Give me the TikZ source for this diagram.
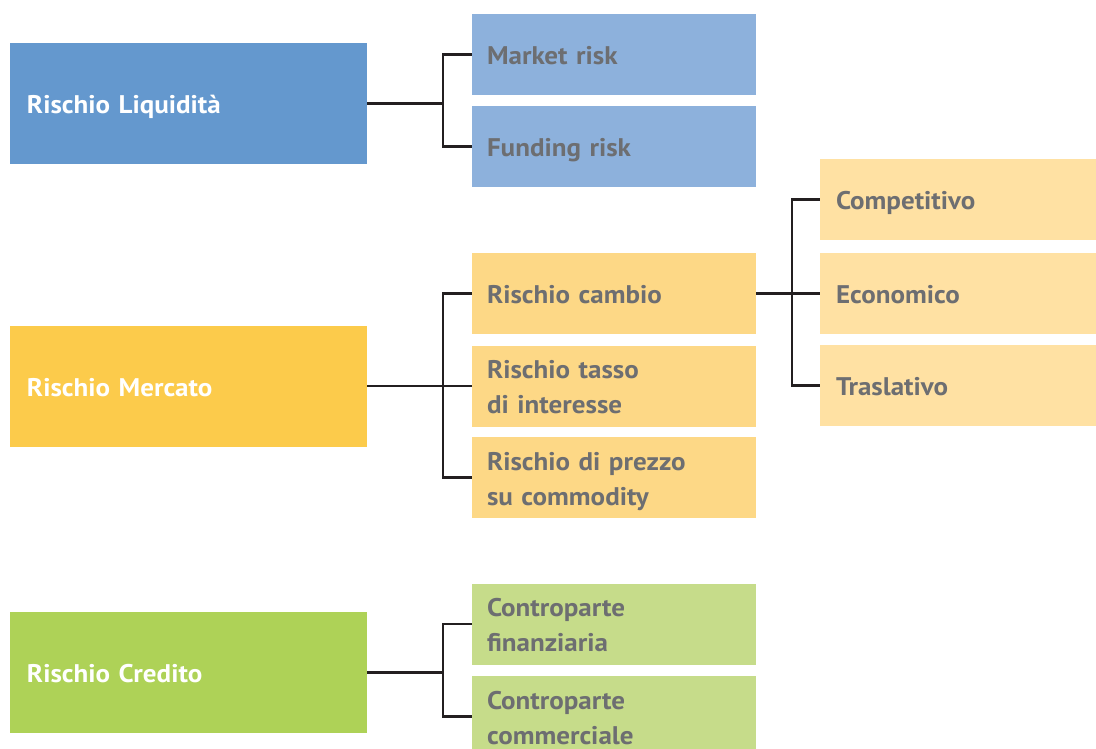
\documentclass[tikz,border=0pt]{standalone}
\usepackage{fontspec}
\setmainfont{PT Sans}[FakeStretch=1.06]

\definecolor{liqmain}{HTML}{6498CE}
\definecolor{liqsub}{HTML}{8DB1DC}
\definecolor{mermain}{HTML}{FCCB4B}
\definecolor{mersub}{HTML}{FDD886}
\definecolor{merleaf}{HTML}{FFE1A3}
\definecolor{cremain}{HTML}{AED257}
\definecolor{cresub}{HTML}{C6DC8A}
\definecolor{labelgray}{HTML}{6D6E71}
\definecolor{linkcolor}{HTML}{231F20}

\tikzset{
  mainbox/.style={rectangle, inner ysep=0pt, inner xsep=17pt, text width=323pt,
    minimum height=121pt, align=left, text=white, text height=20pt, text depth=0pt,
    font=\fontsize{25.5}{35}\selectfont\bfseries},
  subbox/.style={rectangle, inner ysep=0pt, inner xsep=15pt, text width=254pt,
    minimum height=81pt, align=left, text=labelgray, text height=20pt, text depth=0pt,
    font=\fontsize{25.5}{35}\selectfont\bfseries},
  leafbox/.style={subbox, inner xsep=16pt, text width=244pt},
  twolines/.style={text depth=35pt},
  link/.style={draw=linkcolor, line width=2.4pt}
}

\begin{document}
\begin{tikzpicture}[x=1pt,y=-1pt]
\clip (0,0) rectangle (1096,749);

% liquidita
\node[mainbox, fill=liqmain] (liq) at (188.5,103.5) {Rischio Liquidità};
\node[subbox, fill=liqsub] (market) at (614,54.5) {Market risk};
\node[subbox, fill=liqsub] (funding) at (614,146.5) {Funding risk};

% mercato
\node[mainbox, fill=mermain] (merc) at (188.5,386) {Rischio Mercato};
\node[subbox, fill=mersub] (cambio) at (614,293.5) {Rischio cambio};
\node[subbox, fill=mersub, twolines] (tasso) at (614,386) {Rischio tasso\\di interesse};
\node[subbox, fill=mersub, twolines] (prezzo) at (614,477.5) {Rischio di prezzo\\su commodity};
\node[leafbox, fill=merleaf] (compet) at (958,199.5) {Competitivo};
\node[leafbox, fill=merleaf] (econ) at (958,293.5) {Economico};
\node[leafbox, fill=merleaf] (trasl) at (958,385.5) {Traslativo};

% credito
\node[mainbox, fill=cremain] (cred) at (188.5,672.5) {Rischio Credito};
\node[subbox, fill=cresub, twolines] (cfin) at (614,624) {Controparte\\finanziaria};
\node[subbox, fill=cresub, twolines] (ccom) at (614,716.5) {Controparte\\commerciale};

% connectors
\draw[link] (liq.east) -- ++(76,0) coordinate (liqbar) |- (market.west);
\draw[link] (liqbar) |- (funding.west);
\draw[link] (merc.east) -- ++(76,0) coordinate (mercbar) |- (cambio.west);
\draw[link] (mercbar) -- (tasso.west);
\draw[link] (mercbar) |- (prezzo.west);
\draw[link] (cambio.east) -- ++(36,0) coordinate (cambiobar) |- (compet.west);
\draw[link] (cambiobar) -- (econ.west);
\draw[link] (cambiobar) |- (trasl.west);
\draw[link] (cred.east) -- ++(76,0) coordinate (credbar) |- (cfin.west);
\draw[link] (credbar) |- (ccom.west);
\end{tikzpicture}
\end{document}
